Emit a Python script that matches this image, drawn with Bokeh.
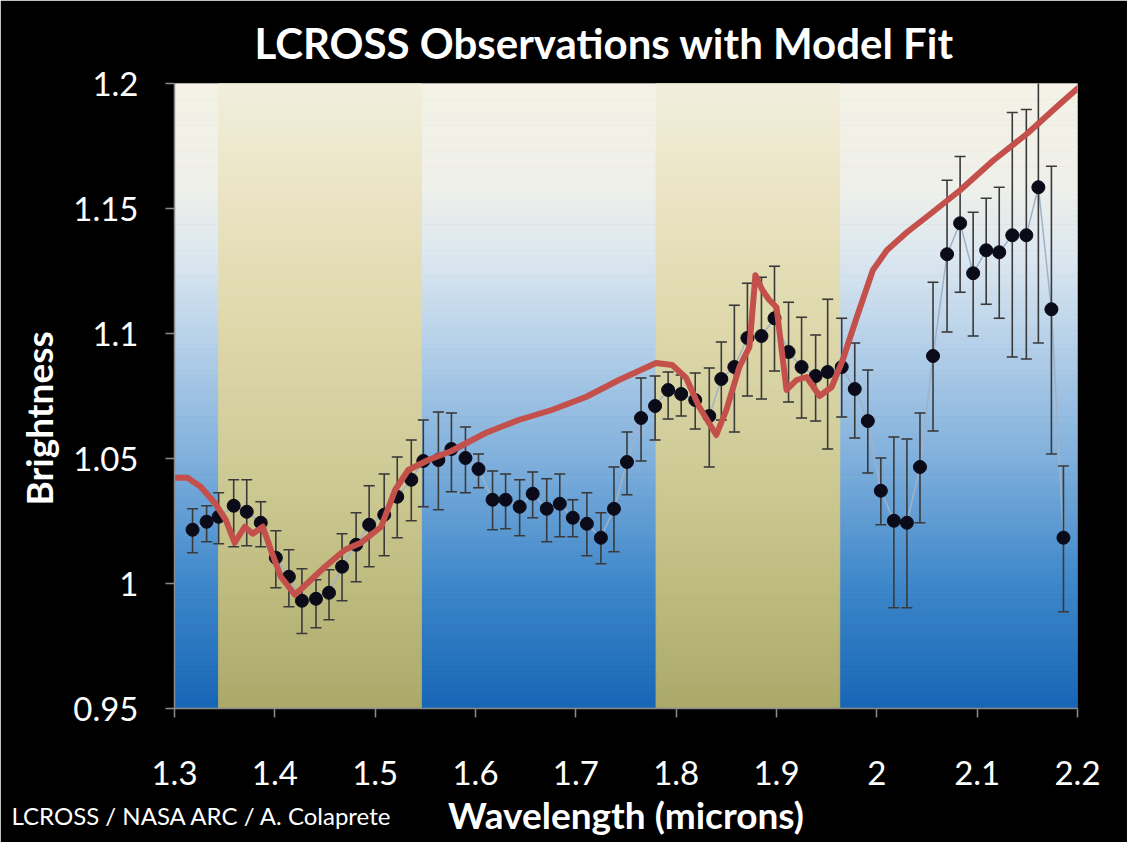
import numpy as np
from bokeh.plotting import figure
from bokeh.models import (ColumnDataSource, Range1d, Title, FixedTicker, CustomJSTickFormatter)
from bokeh.embed import file_html
from bokeh.resources import INLINE

# ---------------- data ----------------
wavelength = [1.318, 1.332, 1.344, 1.359, 1.372, 1.386, 1.401, 1.414, 1.427, 1.441,
              1.454, 1.467, 1.481, 1.494, 1.509, 1.522, 1.536, 1.548, 1.563, 1.576,
              1.590, 1.603, 1.617, 1.630, 1.644, 1.657, 1.671, 1.684, 1.697, 1.711,
              1.725, 1.738, 1.751, 1.765, 1.779, 1.792, 1.805, 1.819, 1.833, 1.845,
              1.858, 1.871, 1.885, 1.898, 1.912, 1.925, 1.939, 1.951, 1.965, 1.978,
              1.991, 2.004, 2.017, 2.030, 2.043, 2.056, 2.070, 2.083, 2.096, 2.109,
              2.122, 2.135, 2.149, 2.161, 2.174, 2.186]
brightness = [1.0215, 1.0247, 1.0267, 1.0311, 1.0287, 1.0243, 1.0103, 1.0027, 0.9931, 0.9939,
              0.9963, 1.0067, 1.0155, 1.0235, 1.0275, 1.0347, 1.0415, 1.0490, 1.0494, 1.0538,
              1.0502, 1.0458, 1.0335, 1.0335, 1.0307, 1.0359, 1.0299, 1.0319, 1.0263, 1.0239,
              1.0183, 1.0299, 1.0486, 1.0662, 1.0710, 1.0774, 1.0758, 1.0734, 1.0670, 1.0818,
              1.0866, 1.0982, 1.0990, 1.1061, 1.0926, 1.0866, 1.0830, 1.0846, 1.0866, 1.0778,
              1.0650, 1.0371, 1.0251, 1.0243, 1.0466, 1.0910, 1.1317, 1.1441, 1.1241, 1.1333,
              1.1325, 1.1393, 1.1393, 1.1585, 1.1097, 1.0183]
err_upper = [1.0299, 1.0311, 1.0363, 1.0415, 1.0415, 1.0327, 1.0211, 1.0135, 1.0059, 1.0015,
             1.0055, 1.0199, 1.0283, 1.0391, 1.0438, 1.0506, 1.0574, 1.0654, 1.0686, 1.0682,
             1.0626, 1.0518, 1.0450, 1.0438, 1.0415, 1.0446, 1.0419, 1.0438, 1.0335, 1.0363,
             1.0283, 1.0466, 1.0606, 1.0822, 1.0830, 1.0846, 1.0834, 1.0842, 1.0862, 1.0966,
             1.1113, 1.1201, 1.1225, 1.1269, 1.1125, 1.1065, 1.0994, 1.1137, 1.1061, 1.0962,
             1.0854, 1.0502, 1.0586, 1.0578, 1.0682, 1.1205, 1.1613, 1.1708, 1.1485, 1.1541,
             1.1585, 1.1884, 1.1896, 1.2052, 1.1669, 1.0470]
err_lower = [1.0123, 1.0167, 1.0159, 1.0147, 1.0151, 1.0147, 0.9983, 0.9907, 0.9800, 0.9823,
             0.9855, 0.9931, 1.0007, 1.0067, 1.0111, 1.0183, 1.0251, 1.0307, 1.0295, 1.0367,
             1.0363, 1.0383, 1.0215, 1.0219, 1.0191, 1.0263, 1.0167, 1.0187, 1.0187, 1.0111,
             1.0079, 1.0127, 1.0355, 1.0490, 1.0574, 1.0658, 1.0670, 1.0618, 1.0466, 1.0654,
             1.0606, 1.0750, 1.0738, 1.0850, 1.0726, 1.0662, 1.0650, 1.0538, 1.0666, 1.0582,
             1.0442, 1.0235, 0.9903, 0.9903, 1.0243, 1.0610, 1.1006, 1.1165, 1.0990, 1.1117,
             1.1061, 1.0906, 1.0898, 1.0962, 1.0518, 0.9887]

model_x = [1.300, 1.313, 1.326, 1.340, 1.351, 1.360, 1.370, 1.378, 1.388, 1.396,
           1.406, 1.420, 1.433, 1.450, 1.470, 1.486, 1.506, 1.520, 1.533, 1.553,
           1.576, 1.610, 1.643, 1.676, 1.710, 1.743, 1.780, 1.796, 1.810, 1.823,
           1.840, 1.850, 1.863, 1.873, 1.879, 1.886, 1.893, 1.900, 1.910, 1.920,
           1.930, 1.943, 1.955, 1.966, 1.980, 1.996, 2.010, 2.030, 2.053, 2.083,
           2.116, 2.150, 2.183, 2.200]
model_y = [1.0423, 1.0423, 1.0387, 1.0323, 1.0255, 1.0163, 1.0227, 1.0199, 1.0227, 1.0135,
           1.0027, 0.9955, 1.0003, 1.0067, 1.0135, 1.0163, 1.0227, 1.0375, 1.0454, 1.0494,
           1.0530, 1.0602, 1.0654, 1.0694, 1.0746, 1.0814, 1.0882, 1.0874, 1.0822, 1.0706,
           1.0594, 1.0694, 1.0866, 1.0946, 1.1233, 1.1173, 1.1133, 1.1105, 1.0774, 1.0814,
           1.0826, 1.0750, 1.0786, 1.0894, 1.1065, 1.1253, 1.1333, 1.1405, 1.1477, 1.1573,
           1.1692, 1.1800, 1.1920, 1.1980]

band_start = [1.344, 1.780]
band_end = [1.546, 1.963]

x_ticks = [1.3, 1.4, 1.5, 1.6, 1.7, 1.8, 1.9, 2.0, 2.1, 2.2]
y_ticks = [0.95, 1.0, 1.05, 1.1, 1.15, 1.2]

X_MIN, X_MAX = 1.3, 2.2
Y_MIN, Y_MAX = 0.95, 1.2

# ---------------- styles ----------------
BG_STOPS = [(1.20, "#f4f2e6"), (1.16, "#eff0ea"), (1.13, "#dbe7f0"), (1.10, "#bad3ea"),
            (1.05, "#80b0dc"), (1.00, "#3e87ca"), (0.95, "#1766b6")]
BAND_STOPS = [(1.20, "#f1eedd"), (1.16, "#ebe5c6"), (1.10, "#ddd7aa"), (1.05, "#d0cc98"),
              (1.00, "#bfbc80"), (0.95, "#aaa96a")]
FONT = "Lato"
ERR_COLOR = "#3a3a3a"


def hex2rgb(h):
    h = h.lstrip("#")
    return [int(h[i:i + 2], 16) for i in (0, 2, 4)]


def gradient(stops, ys):
    sv = np.array([s[0] for s in stops])
    rgb = np.array([hex2rgb(s[1]) for s in stops], dtype=float)
    order = np.argsort(sv)
    cols = []
    for y in ys:
        c = [int(round(np.interp(y, sv[order], rgb[order, k]))) for k in range(3)]
        cols.append("#%02x%02x%02x" % tuple(c))
    return cols


W, H = 1127, 842
p = figure(width=W, height=H, output_backend="svg", toolbar_location=None,
           x_range=Range1d(X_MIN, X_MAX), y_range=Range1d(Y_MIN, Y_MAX),
           min_border_left=174, min_border_right=50, min_border_top=83, min_border_bottom=134,
           background_fill_color="black", border_fill_color="black")
p.outline_line_color = None
p.xgrid.grid_line_color = None
p.ygrid.grid_line_color = None

# title
p.title.text = "LCROSS Observations with Model Fit"
p.title.align = "left"
p.title.offset = 80
p.title.vertical_align = "middle"
p.title.text_color = "white"
p.title.text_font = FONT
p.title.text_font_style = "bold"
p.title.text_font_size = "42px"
p.title.standoff = 29

# background gradient strips
n = 120
edges = np.linspace(Y_MIN, Y_MAX, n + 1)
mids = (edges[:-1] + edges[1:]) / 2
bg_cols = gradient(BG_STOPS, mids)
p.quad(left=[X_MIN] * n, right=[X_MAX] * n, bottom=edges[:-1], top=edges[1:],
       fill_color=bg_cols, line_color=bg_cols, line_width=1)
band_cols = gradient(BAND_STOPS, mids)
for b0, b1 in zip(band_start, band_end):
    p.quad(left=[b0] * n, right=[b1] * n, bottom=edges[:-1], top=edges[1:],
           fill_color=band_cols, line_color=band_cols, line_width=1)

# observations
src = ColumnDataSource(dict(x=wavelength, y=brightness, lo=err_lower, hi=err_upper))
p.line("x", "y", source=src, line_color="#9fb2c9", line_width=1.5)
p.segment(x0="x", y0="lo", x1="x", y1="hi", source=src, line_color=ERR_COLOR, line_width=1.6)
p.scatter("x", "lo", source=src, marker="dash", size=11, line_color=ERR_COLOR, line_width=1.6)
p.scatter("x", "hi", source=src, marker="dash", size=11, line_color=ERR_COLOR, line_width=1.6)
p.scatter("x", "y", source=src, size=13, fill_color="#0a0a18", line_color="#0a0a18")

# model fit
p.line(model_x, model_y, line_color="#c4504c", line_width=6, line_join="round", line_cap="round")

# axes
for ax in (p.xaxis[0], p.yaxis[0]):
    ax.axis_line_color = "#8a8a8a"
    ax.axis_line_width = 1.5
    ax.major_tick_line_color = "#8a8a8a"
    ax.major_tick_line_width = 1.5
    ax.minor_tick_line_color = None
    ax.major_tick_in = 0
    ax.major_label_text_color = "white"
    ax.major_label_text_font = FONT
    ax.major_label_text_font_size = "33px"

p.xaxis.ticker = FixedTicker(ticks=x_ticks)
p.yaxis.ticker = FixedTicker(ticks=y_ticks)
fmt = CustomJSTickFormatter(code="return (Math.round(tick*100)/100).toString();")
p.xaxis.formatter = fmt
p.yaxis.formatter = fmt
p.xaxis.major_tick_out = 9
p.xaxis.major_label_standoff = 43
p.yaxis.major_tick_out = 9
p.yaxis.major_label_standoff = 27
# spacer label so that the texts below the axis sit at the right height
p.xaxis.axis_label = " "
p.xaxis.axis_label_text_font_size = "1px"
p.xaxis.axis_label_standoff = 22

# axis titles and credit line as side-panel titles
wl_title = Title(text="Wavelength (microns)", align="center", vertical_align="middle",
                 standoff=-46, text_color="white", text_font=FONT, text_font_style="bold",
                 text_font_size="37px")
credit = Title(text="LCROSS / NASA ARC / A. Colaprete", align="left", offset=-163,
               vertical_align="middle", standoff=-30, text_color="white", text_font=FONT,
               text_font_style="normal", text_font_size="24px")
p.add_layout(wl_title, "below")
p.add_layout(credit, "below")

y_title = Title(text="Brightness", align="left", offset=203, vertical_align="middle",
                standoff=17, text_color="white", text_font=FONT, text_font_style="bold",
                text_font_size="37px")
p.add_layout(y_title, "left")

open("out.html", "w").write(file_html(p, INLINE))
